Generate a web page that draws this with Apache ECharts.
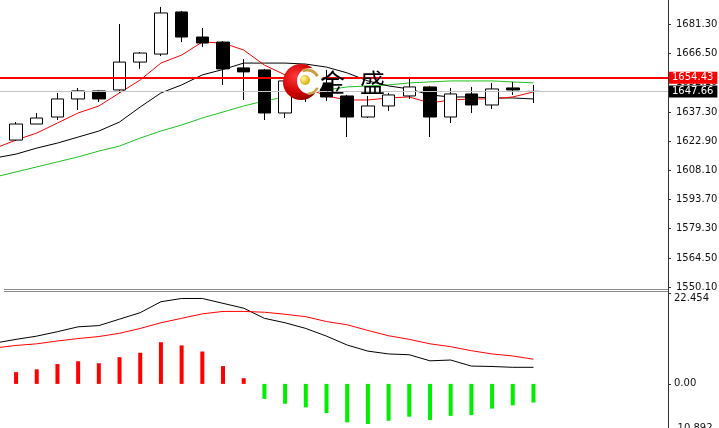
<!DOCTYPE html>
<html><head><meta charset="utf-8">
<script src="https://cdn.jsdelivr.net/npm/echarts@6/dist/echarts.min.js"></script>
<style>html,body{margin:0;padding:0;background:#fff}#c{width:719px;height:428px}</style>
</head><body><div id="c"></div>
<script>
// ---- data ----
// slot 0 is an off-screen bar before the first visible candle (only the lines reach into view)
const categories = ['p0','c1','c2','c3','c4','c5','c6','c7','c8','c9','c10','c11','c12','c13','c14','c15','c16','c17','c18','c19','c20','c21','c22','c23','c24','c25','c26','e1','e2','e3','e4','e5','e6'];
// [open, close, low, high]
const candles = [
  [1623.4,1631.4,1622.9,1632.4],
  [1631.4,1634.4,1631.4,1636.9],
  [1634.9,1643.9,1633.4,1646.9],
  [1643.9,1647.9,1638.4,1649.4],
  [1647.9,1643.9,1642.4,1648.2],
  [1648.4,1662.3,1646.9,1681.3],
  [1662.3,1666.8,1658.9,1667.3],
  [1666.3,1686.8,1665.3,1689.8],
  [1687.3,1674.8,1672.3,1687.8],
  [1674.8,1671.8,1669.8,1679.3],
  [1672.3,1658.9,1650.9,1672.8],
  [1659.4,1657.4,1643.4,1663.8],
  [1658.4,1636.9,1633.4,1658.9],
  [1636.9,1652.9,1634.4,1653.4],
  [1652.4,1650.4,1642.4,1658.4],
  [1651.9,1644.9,1642.9,1658.4],
  [1645.4,1634.9,1624.9,1645.9],
  [1634.9,1640.4,1634.4,1645.4],
  [1640.4,1645.9,1637.9,1646.9],
  [1645.4,1649.9,1643.9,1654.9],
  [1649.9,1634.9,1624.9,1650.4],
  [1634.9,1646.4,1631.9,1649.4],
  [1646.4,1640.9,1636.9,1649.9],
  [1640.9,1648.9,1638.9,1651.9],
  [1649.4,1648.4,1645.9,1652.4],
  [1647.66,1647.66,1641.9,1650.9]
];
const maRed   = [1619.4,1623.4,1626.9,1631.9,1636.9,1640.4,1646.9,1653.4,1661.8,1665.8,1672.3,1671.8,1668.3,1660.8,1655.9,1649.4,1645.4,1643.4,1643.4,1644.4,1644.9,1641.9,1643.4,1643.9,1643.9,1644.9,1647.4];
const maBlack = [1614.5,1616.4,1619.4,1621.9,1624.9,1627.9,1632.4,1639.9,1646.9,1650.9,1655.9,1658.6,1661.8,1661.8,1661.8,1661.3,1659.8,1656.9,1652.9,1650.4,1648.9,1645.9,1644.9,1644.9,1644.4,1644.4,1643.9];
const maGreen = [1605.0,1607.5,1610.0,1612.5,1615.0,1617.9,1620.4,1624.4,1627.9,1630.9,1634.4,1637.4,1640.4,1642.9,1644.9,1646.9,1648.4,1649.9,1650.4,1650.9,1651.9,1652.4,1652.9,1652.9,1652.9,1652.4,1651.9];
const priceTicks = [1550.10,1564.50,1579.30,1593.70,1608.10,1622.90,1637.30,1652.10,1666.50,1681.30];
const askPrice = 1654.43;
const lastPrice = 1647.66;
const macdHist = [2.9,3.6,4.9,5.6,5.1,6.6,7.7,10.3,9.5,8.0,4.4,1.4,-3.7,-4.9,-5.8,-7.2,-9.5,-9.9,-9.1,-8.1,-8.9,-7.9,-7.7,-6.1,-5.3,-4.6];
const dif = [10.1,11.0,11.8,12.9,14.1,14.4,16.0,17.6,20.3,21.1,21.1,19.9,18.7,16.2,15.1,13.7,11.8,9.6,8.1,7.4,7.2,5.7,5.9,4.4,4.3,4.1,4.1];
const dea = [8.9,9.5,9.9,10.6,11.2,11.7,12.5,13.7,15.1,16.2,17.3,17.9,17.9,17.7,17.2,16.6,15.4,14.6,13.2,11.9,11.0,9.9,9.2,8.2,7.4,6.9,6.1];
const macdTicks = [-10.892, 0, 22.454];

// ---- chart ----
const FONT = 'DejaVu Sans';
const chart = echarts.init(document.getElementById('c'), null, {renderer:'canvas'});
const candleData = ['-'].concat(candles);
const histData = ['-'].concat(macdHist);
const lbl = {show:true, position:'end', distance:1, color:'#fff', fontSize:10, fontFamily:FONT, padding:[1,4,1,3],
  formatter: p => Number(p.value).toFixed(2)};

chart.setOption({
  animation:false,
  backgroundColor:'#ffffff',
  grid:[
    {left:-15, right:51, top:0, height:287, outerBoundsMode:'none', containLabel:false},
    {left:-15, right:51, top:293, height:135, outerBoundsMode:'none', containLabel:false}
  ],
  xAxis:[
    {type:'category', gridIndex:0, data:categories, boundaryGap:true, show:false},
    {type:'category', gridIndex:1, data:categories, boundaryGap:true, show:false}
  ],
  yAxis:[
    {type:'value', gridIndex:0, position:'right', min:1550.1, max:1693.27, scale:true,
     axisLine:{show:true, lineStyle:{color:'#333', width:1}},
     axisTick:{show:true, length:3, customValues:priceTicks, lineStyle:{color:'#333'}},
     axisLabel:{show:true, customValues:priceTicks, margin:8, color:'#111', fontSize:10, fontFamily:FONT,
       formatter: v => Number(v).toFixed(2)},
     splitLine:{show:false}},
    {type:'value', gridIndex:1, position:'right', min:-10.892, max:22.454,
     axisLine:{show:true, lineStyle:{color:'#333', width:1}},
     axisTick:{show:true, length:3, customValues:macdTicks, lineStyle:{color:'#333'}},
     axisLabel:{show:true, customValues:macdTicks, margin:6, color:'#111', fontSize:10, fontFamily:FONT,
       verticalAlignMaxLabel:'top',
       formatter: v => (v === 0 ? '0.00' : Number(v).toFixed(3))},
     splitLine:{show:false}}
  ],
  series:[
    {type:'line', xAxisIndex:0, yAxisIndex:0, data:maGreen, showSymbol:false, clip:true,
     lineStyle:{color:'#20c020', width:1}, z:2},
    {type:'line', xAxisIndex:0, yAxisIndex:0, data:maBlack, showSymbol:false, clip:true,
     lineStyle:{color:'#000000', width:1}, z:2},
    {type:'line', xAxisIndex:0, yAxisIndex:0, data:maRed, showSymbol:false, clip:true,
     lineStyle:{color:'#ff0000', width:1}, z:2},
    {type:'candlestick', xAxisIndex:0, yAxisIndex:0, data:candleData, barWidth:13, z:3,
     itemStyle:{color:'#ffffff', color0:'#000000', borderColor:'#000000', borderColor0:'#000000', borderWidth:1},
     markLine:{symbol:['none','none'], silent:true, animation:false, precision:2,
       data:[
         {yAxis:lastPrice, lineStyle:{color:'#c4c4c4', width:1, type:'solid'}, label:Object.assign({}, lbl, {backgroundColor:'#000000'})},
         {yAxis:askPrice, lineStyle:{color:'#ff0000', width:2, type:'solid'}, label:Object.assign({}, lbl, {backgroundColor:'#ff0000'})}
       ]}},
    {type:'bar', xAxisIndex:1, yAxisIndex:1, data:histData, barWidth:4,
     itemStyle:{color: p => (p.value >= 0 ? '#ff0000' : '#00ee00')}},
    {type:'line', xAxisIndex:1, yAxisIndex:1, data:dif, showSymbol:false, clip:true,
     lineStyle:{color:'#000000', width:1}},
    {type:'line', xAxisIndex:1, yAxisIndex:1, data:dea, showSymbol:false, clip:true,
     lineStyle:{color:'#ff0000', width:1}}
  ],
  graphic:[
    {type:'line', shape:{x1:4,y1:289.5,x2:668,y2:289.5}, style:{stroke:'#8a8a8a', lineWidth:1}, z:50},
    {type:'line', shape:{x1:4,y1:291.5,x2:668,y2:291.5}, style:{stroke:'#8a8a8a', lineWidth:1}, z:50},
    {type:'line', shape:{x1:668.5,y1:286,x2:668.5,y2:294}, style:{stroke:'#333', lineWidth:1}, z:50},
    // logo
    {type:'circle', shape:{cx:301,cy:82,r:18}, z:100,
     style:{fill:new echarts.graphic.RadialGradient(0.35,0.35,0.75,[{offset:0,color:'#ff3a3a'},{offset:0.6,color:'#d00000'},{offset:1,color:'#8a0000'}])}},
    {type:'circle', shape:{cx:310,cy:81,r:13}, z:101, style:{fill:'#ffffff'}},
    {type:'arc', shape:{cx:307,cy:82,r:12,startAngle:-1.95,endAngle:-0.5}, z:102,
     style:{stroke:'#c9a040', lineWidth:3, fill:null}},
    {type:'arc', shape:{cx:307,cy:82,r:12,startAngle:0.5,endAngle:1.5}, z:102,
     style:{stroke:'#c9a040', lineWidth:2.5, fill:null}},
    {type:'circle', shape:{cx:305,cy:80,r:5}, z:103,
     style:{fill:new echarts.graphic.RadialGradient(0.35,0.35,0.7,[{offset:0,color:'#fff6a0'},{offset:1,color:'#d8a800'}])}},
    {type:'text', x:320, y:70, z:104, style:{text:'金', fontSize:25, fontFamily:'Noto Sans CJK SC', fontWeight:'normal', fill:'#000000'}},
    {type:'text', x:360, y:70, z:104, style:{text:'盛', fontSize:25, fontFamily:'Noto Sans CJK SC', fontWeight:'normal', fill:'#000000'}}
  ]
});
</script>
</body></html>
